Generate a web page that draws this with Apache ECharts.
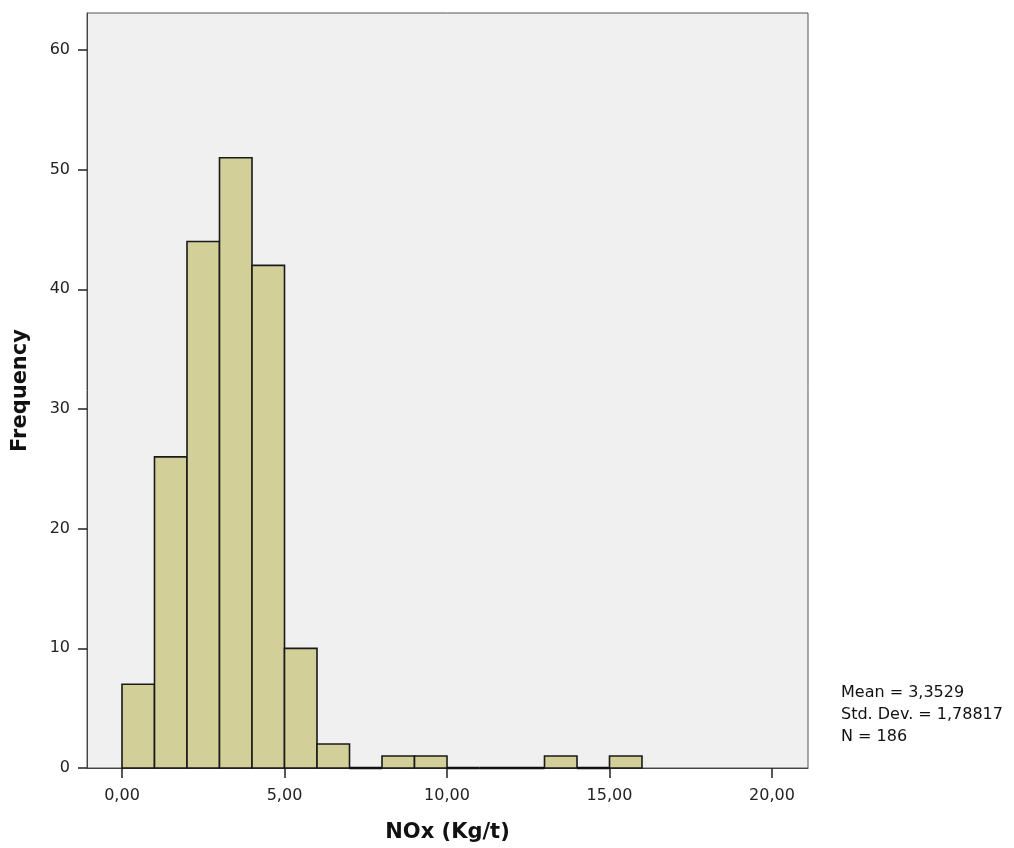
<!DOCTYPE html>
<html>
<head>
<meta charset="utf-8">
<script src="https://cdn.jsdelivr.net/npm/echarts@6/dist/echarts.min.js"></script>
<style>html,body{margin:0;padding:0;background:#fff;}#c{width:1014px;height:848px;}</style>
</head>
<body>
<div id="c"></div>
<script>
const binStarts = [0,1,2,3,4,5,6,7,8,9,10,11,12,13,14,15];
const binWidth = 1;
const counts = [7,26,44,51,42,10,2,0,1,1,0,0,0,1,0,1];
const xTicks = [0,5,10,15,20];
const yTicks = [0,10,20,30,40,50,60];
const statsLines = ['Mean = 3,3529','Std. Dev. = 1,78817','N = 186'];

const FONT = '"DejaVu Sans", Arial, sans-serif';
const data = binStarts.map((s,i)=>[s, s+binWidth, counts[i]]);
const chart = echarts.init(document.getElementById('c'), null, {renderer:'canvas'});
chart.setOption({
  animation:false,
  backgroundColor:'#ffffff',
  grid:{left:87,right:206,top:13,bottom:80,show:true,backgroundColor:'#f0f0f0',borderColor:'#555',borderWidth:1},
  xAxis:{type:'value',min:-1.077,max:21.108,
    name:'NOx (Kg/t)',nameLocation:'middle',nameGap:54,
    nameTextStyle:{fontFamily:FONT,fontSize:21,fontWeight:'bold',color:'#111'},
    axisLine:{show:true,onZero:false,lineStyle:{color:'#444',width:1}},
    axisTick:{show:true,length:10,customValues:xTicks,lineStyle:{color:'#222',width:1.5}},
    axisLabel:{customValues:xTicks,margin:20,fontFamily:FONT,fontSize:16,color:'#222',
      formatter:v=>v.toFixed(2).replace('.',',')},
    splitLine:{show:false}},
  yAxis:{type:'value',min:0,max:63.09,
    name:'Frequency',nameLocation:'middle',nameGap:56,nameRotate:90,
    nameTextStyle:{fontFamily:FONT,fontSize:21,fontWeight:'bold',color:'#111'},
    axisLine:{show:true,onZero:false,lineStyle:{color:'#444',width:1}},
    axisTick:{show:true,length:9,customValues:yTicks,lineStyle:{color:'#222',width:1.5}},
    axisLabel:{customValues:yTicks,margin:17,fontFamily:FONT,fontSize:16,color:'#222'},
    splitLine:{show:false}},
  series:[{
    type:'custom',
    data:data,
    encode:{x:[0,1],y:2},
    renderItem:function(params,api){
      const p0 = api.coord([api.value(0), api.value(2)]);
      const p1 = api.coord([api.value(1), 0]);
      const h = p1[1]-p0[1];
      if (api.value(2) === 0) {
        return {type:'line',shape:{x1:p0[0],y1:p1[1],x2:p1[0],y2:p1[1]},style:{stroke:'#111',lineWidth:2.5}};
      }
      return {type:'rect',shape:{x:p0[0],y:p0[1],width:p1[0]-p0[0],height:h},
        style:{fill:'#d3cf98',stroke:'#1a1a1a',lineWidth:1.6}};
    }
  }],
  graphic:[{type:'text',left:841,top:682,style:{text:statsLines.join('\n'),font:'16px "DejaVu Sans", Arial, sans-serif',fill:'#111',lineHeight:22}}]
});
</script>
</body>
</html>
